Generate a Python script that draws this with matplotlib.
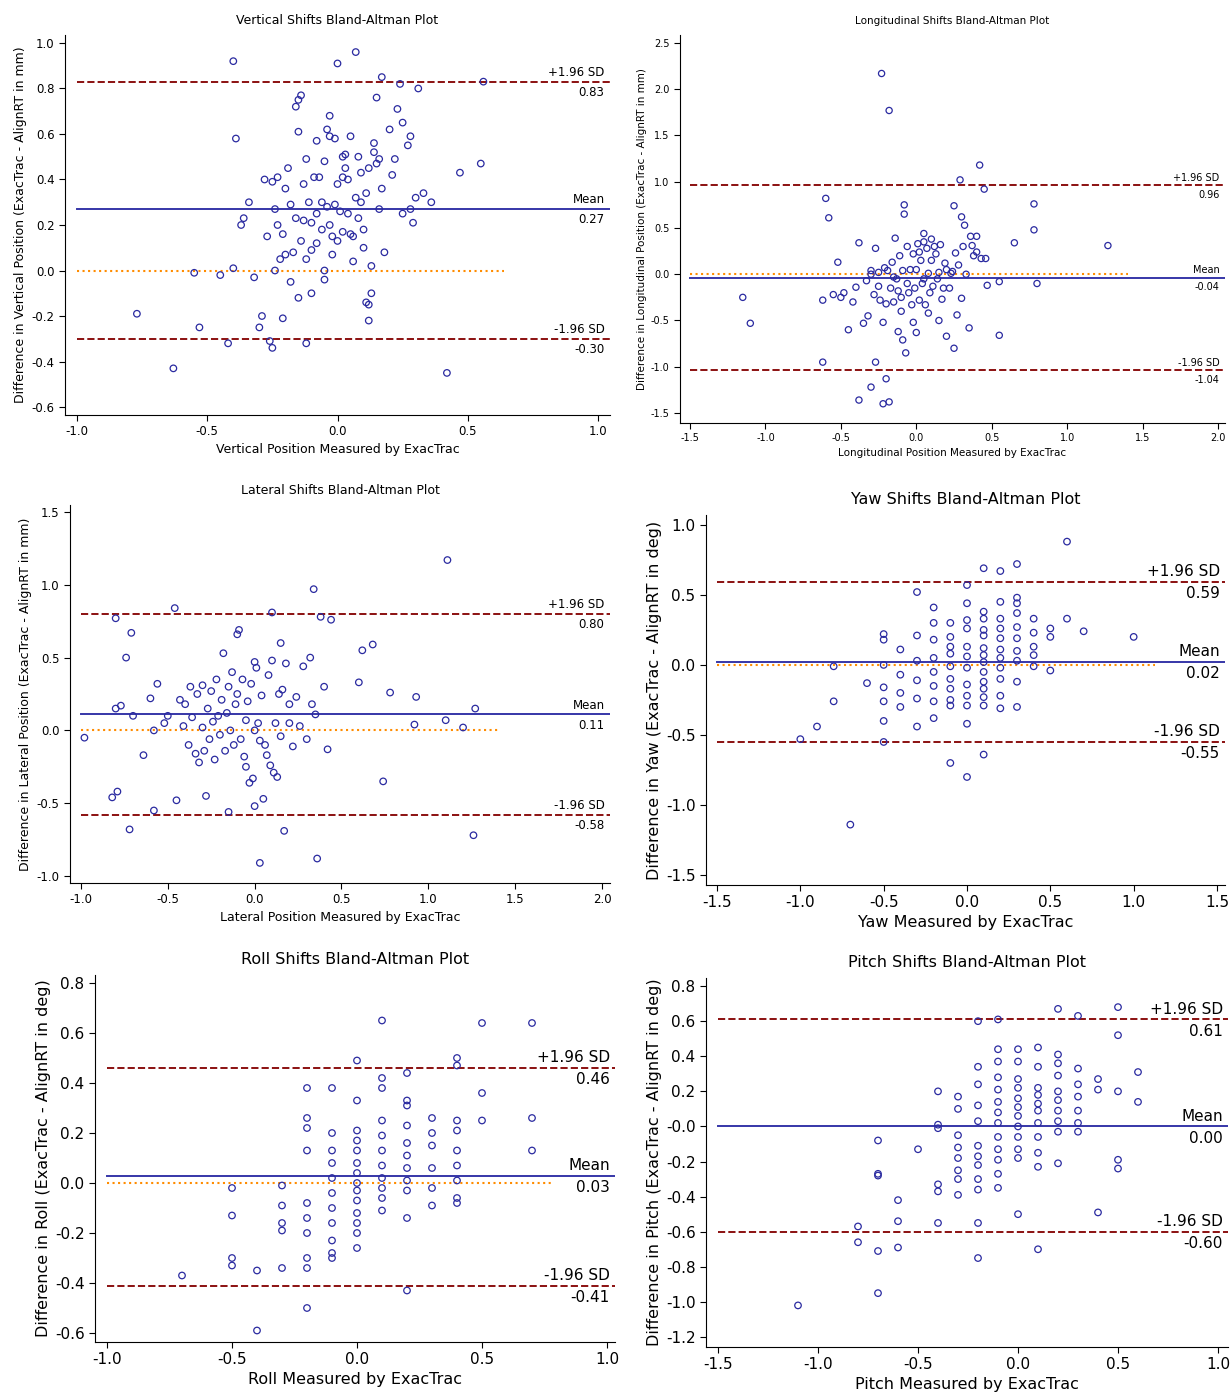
import numpy as np
import matplotlib
matplotlib.use("Agg")
import matplotlib.pyplot as plt

W, H = 1231, 1393

# ---- data ----
vert_pts = [(-0.77,-0.19),(-0.63,-0.43),(-0.55,-0.01),(-0.53,-0.25),(-0.45,-0.02),(-0.42,-0.32),(-0.4,0.92),(-0.4,0.01),(-0.39,0.58),(-0.37,0.20),(-0.36,0.23),(-0.34,0.30),(-0.32,-0.03),(-0.3,-0.25),(-0.29,-0.20),(-0.28,0.40),(-0.27,0.15),(-0.26,-0.31),(-0.25,-0.34),(-0.25,0.39),(-0.24,0.27),(-0.24,0.00),(-0.23,0.41),(-0.23,0.20),(-0.22,0.05),(-0.21,-0.21),(-0.21,0.16),(-0.2,0.36),(-0.2,0.07),(-0.19,0.45),(-0.18,0.29),(-0.18,-0.05),(-0.17,0.08),(-0.16,0.23),(-0.16,0.72),(-0.15,0.75),(-0.15,0.61),(-0.15,-0.12),(-0.14,0.77),(-0.14,0.13),(-0.13,0.38),(-0.13,0.22),(-0.12,-0.32),(-0.12,0.49),(-0.12,0.05),(-0.11,0.30),(-0.1,0.09),(-0.1,0.21),(-0.1,-0.10),(-0.09,0.41),(-0.08,0.57),(-0.08,0.25),(-0.08,0.12),(-0.07,0.41),(-0.06,0.18),(-0.05,0.48),(-0.05,0.00),(-0.05,-0.04),(-0.04,0.62),(-0.04,0.28),(-0.03,0.68),(-0.03,0.59),(-0.03,0.20),(-0.02,0.15),(-0.02,0.07),(-0.01,0.58),(-0.01,0.29),(0.0,0.13),(0.0,0.91),(0.0,0.38),(0.01,0.26),(0.02,0.41),(0.02,0.17),(0.03,0.51),(0.03,0.45),(0.04,0.40),(0.04,0.25),(0.05,0.16),(0.05,0.59),(0.06,0.15),(0.06,0.04),(0.07,0.32),(0.07,0.96),(0.08,0.50),(0.08,0.23),(0.09,0.43),(0.1,0.10),(0.1,0.18),(0.11,-0.14),(0.11,0.34),(0.12,-0.22),(0.12,0.45),(0.12,-0.15),(0.13,0.02),(0.13,-0.10),(0.14,0.52),(0.14,0.56),(0.15,0.47),(0.15,0.76),(0.16,0.49),(0.16,0.27),(0.17,0.85),(0.17,0.36),(0.18,0.08),(0.2,0.62),(0.21,0.42),(0.22,0.49),(0.23,0.71),(0.24,0.82),(0.25,0.25),(0.25,0.65),(0.27,0.55),(0.28,0.59),(0.28,0.27),(0.29,0.21),(0.3,0.32),(0.31,0.80),(0.33,0.34),(0.36,0.30),(0.42,-0.45),(0.47,0.43),(0.55,0.47),(0.56,0.83),(0.02,0.50),(-0.06,0.30),(0.09,0.30)]

long_pts = [(-1.15,-0.25),(-1.1,-0.53),(-0.62,-0.95),(-0.62,-0.28),(-0.6,0.82),(-0.58,0.61),(-0.55,-0.22),(-0.52,0.13),(-0.5,-0.25),(-0.48,-0.20),(-0.45,-0.60),(-0.42,-0.30),(-0.4,-0.14),(-0.38,0.34),(-0.38,-1.36),(-0.35,-0.53),(-0.33,-0.07),(-0.32,-0.45),(-0.3,-1.22),(-0.3,0.04),(-0.28,-0.22),(-0.27,0.28),(-0.27,-0.95),(-0.25,-0.13),(-0.25,0.02),(-0.24,-0.28),(-0.23,2.17),(-0.22,-1.40),(-0.22,-0.52),(-0.21,0.07),(-0.2,-1.13),(-0.2,-0.32),(-0.19,0.04),(-0.18,-1.38),(-0.18,1.77),(-0.17,-0.15),(-0.16,0.13),(-0.15,-0.30),(-0.14,0.39),(-0.13,-0.05),(-0.12,-0.62),(-0.12,-0.18),(-0.11,0.20),(-0.1,-0.25),(-0.1,-0.40),(-0.09,-0.71),(-0.09,0.04),(-0.08,0.65),(-0.08,0.75),(-0.07,-0.85),(-0.06,0.30),(-0.06,-0.10),(-0.05,-0.20),(-0.04,0.05),(-0.03,-0.33),(-0.02,0.22),(-0.02,-0.52),(-0.01,-0.15),(0.0,-0.63),(0.0,0.05),(0.01,0.33),(0.02,0.24),(0.02,-0.28),(0.03,0.15),(0.04,-0.10),(0.05,0.44),(0.05,0.35),(0.06,-0.33),(0.07,0.28),(0.08,0.01),(0.08,-0.42),(0.09,-0.20),(0.1,0.38),(0.1,0.15),(0.11,-0.13),(0.12,0.30),(0.13,0.22),(0.14,-0.05),(0.15,0.02),(0.15,-0.50),(0.16,0.32),(0.17,-0.27),(0.18,-0.15),(0.19,0.12),(0.2,-0.67),(0.2,0.05),(0.22,-0.15),(0.23,0.01),(0.24,0.03),(0.25,0.74),(0.25,-0.80),(0.26,0.23),(0.27,-0.44),(0.28,0.10),(0.29,1.02),(0.3,0.62),(0.3,-0.26),(0.31,0.30),(0.32,0.53),(0.33,0.00),(0.35,-0.58),(0.36,0.41),(0.37,0.31),(0.38,0.20),(0.4,0.24),(0.4,0.41),(0.42,1.18),(0.43,0.17),(0.45,0.92),(0.46,0.17),(0.47,-0.12),(0.55,-0.66),(0.55,-0.08),(0.65,0.34),(0.78,0.76),(0.78,0.48),(0.8,-0.10),(1.27,0.31),(-0.3,0.0),(0.05,-0.05),(-0.15,-0.03)]

lat_pts = [(-0.98,-0.05),(-0.82,-0.46),(-0.8,0.77),(-0.8,0.15),(-0.79,-0.42),(-0.77,0.17),(-0.74,0.50),(-0.72,-0.68),(-0.71,0.67),(-0.7,0.10),(-0.64,-0.17),(-0.6,0.22),(-0.58,-0.55),(-0.56,0.32),(-0.52,0.05),(-0.5,0.10),(-0.46,0.84),(-0.45,-0.48),(-0.43,0.21),(-0.41,0.03),(-0.4,0.18),(-0.38,-0.10),(-0.37,0.30),(-0.36,0.09),(-0.34,-0.16),(-0.33,0.25),(-0.32,-0.22),(-0.3,0.02),(-0.3,0.31),(-0.29,-0.14),(-0.28,-0.45),(-0.27,0.15),(-0.26,-0.06),(-0.25,0.27),(-0.24,0.06),(-0.23,-0.20),(-0.22,0.35),(-0.21,0.10),(-0.2,-0.03),(-0.19,0.21),(-0.18,0.53),(-0.17,-0.14),(-0.16,0.12),(-0.15,-0.56),(-0.15,0.30),(-0.14,0.00),(-0.13,0.40),(-0.12,-0.10),(-0.11,0.18),(-0.1,0.66),(-0.1,0.25),(-0.09,0.69),(-0.08,-0.06),(-0.07,0.35),(-0.06,-0.18),(-0.05,0.07),(-0.05,-0.25),(-0.04,0.20),(-0.03,-0.36),(-0.02,0.32),(-0.01,-0.33),(0.0,0.47),(0.0,0.0),(0.0,-0.52),(0.01,0.43),(0.02,0.05),(0.03,-0.07),(0.03,-0.91),(0.04,0.24),(0.05,-0.47),(0.06,-0.10),(0.07,-0.17),(0.08,0.38),(0.09,-0.24),(0.1,0.81),(0.1,0.48),(0.11,-0.29),(0.12,0.05),(0.13,-0.32),(0.14,0.25),(0.15,0.60),(0.15,-0.04),(0.16,0.28),(0.17,-0.69),(0.18,0.46),(0.2,0.18),(0.22,-0.11),(0.24,0.23),(0.26,0.03),(0.28,0.44),(0.3,-0.06),(0.32,0.50),(0.33,0.18),(0.34,0.97),(0.35,0.11),(0.36,-0.88),(0.38,0.78),(0.4,0.30),(0.42,-0.13),(0.44,0.76),(0.6,0.33),(0.62,0.55),(0.68,0.59),(0.74,-0.35),(0.78,0.26),(0.92,0.04),(0.93,0.23),(1.1,0.07),(1.11,1.17),(1.2,0.02),(1.26,-0.72),(1.27,0.15),(-0.58,0.0),(0.2,0.05)]

yaw_pts = [(-1.0,-0.53),(-0.9,-0.44),(-0.8,-0.26),(-0.8,-0.01),(-0.7,-1.14),(-0.6,-0.13),(-0.5,0.22),(-0.5,0.18),(-0.5,0.0),(-0.5,-0.16),(-0.5,-0.26),(-0.5,-0.40),(-0.5,-0.55),(-0.4,0.11),(-0.4,-0.07),(-0.4,-0.20),(-0.4,-0.30),(-0.3,0.21),(-0.3,0.03),(-0.3,-0.11),(-0.3,-0.24),(-0.3,-0.44),(-0.3,0.52),(-0.2,0.30),(-0.2,0.18),(-0.2,0.05),(-0.2,-0.05),(-0.2,-0.15),(-0.2,-0.26),(-0.2,0.41),(-0.1,0.30),(-0.1,0.20),(-0.1,0.13),(-0.1,0.08),(-0.1,-0.01),(-0.1,-0.10),(-0.1,-0.17),(-0.1,-0.25),(-0.1,-0.29),(-0.1,-0.70),(0.0,0.57),(0.0,0.32),(0.0,0.26),(0.0,0.13),(0.0,0.06),(0.0,-0.02),(0.0,-0.14),(0.0,-0.22),(0.0,-0.29),(0.0,-0.42),(0.0,-0.80),(0.1,0.69),(0.1,0.38),(0.1,0.33),(0.1,0.25),(0.1,0.21),(0.1,0.12),(0.1,0.07),(0.1,0.02),(0.1,-0.05),(0.1,-0.12),(0.1,-0.17),(0.1,-0.23),(0.1,-0.29),(0.1,-0.64),(0.2,0.45),(0.2,0.33),(0.2,0.26),(0.2,0.19),(0.2,0.11),(0.2,0.05),(0.2,-0.02),(0.2,-0.10),(0.2,-0.22),(0.2,-0.31),(0.2,0.67),(0.3,0.48),(0.3,0.44),(0.3,0.37),(0.3,0.27),(0.3,0.19),(0.3,0.10),(0.3,0.03),(0.3,-0.12),(0.3,-0.30),(0.3,0.72),(0.4,0.33),(0.4,0.23),(0.4,0.13),(0.4,0.07),(0.4,-0.01),(0.5,0.26),(0.5,0.20),(0.5,-0.04),(0.6,0.88),(0.6,0.33),(0.7,0.24),(1.0,0.20),(-0.2,-0.38),(0.0,0.44)]

roll_pts = [(-0.7,-0.37),(-0.5,-0.02),(-0.5,-0.13),(-0.5,-0.30),(-0.5,-0.33),(-0.4,-0.35),(-0.4,-0.59),(-0.3,-0.01),(-0.3,-0.09),(-0.3,-0.16),(-0.3,-0.19),(-0.3,-0.34),(-0.2,0.38),(-0.2,0.26),(-0.2,0.22),(-0.2,0.13),(-0.2,-0.08),(-0.2,-0.14),(-0.2,-0.20),(-0.2,-0.30),(-0.2,-0.34),(-0.2,-0.50),(-0.1,0.38),(-0.1,0.20),(-0.1,0.13),(-0.1,0.02),(-0.1,-0.04),(-0.1,-0.10),(-0.1,-0.16),(-0.1,-0.23),(-0.1,-0.28),(-0.1,-0.30),(0.0,0.49),(0.0,0.33),(0.0,0.21),(0.0,0.17),(0.0,0.13),(0.0,0.08),(0.0,0.04),(0.0,0.00),(0.0,-0.03),(0.0,-0.07),(0.0,-0.12),(0.0,-0.16),(0.0,-0.20),(0.0,-0.26),(0.1,0.65),(0.1,0.42),(0.1,0.38),(0.1,0.25),(0.1,0.19),(0.1,0.13),(0.1,0.07),(0.1,0.02),(0.1,-0.02),(0.1,-0.06),(0.1,-0.11),(0.2,0.44),(0.2,0.33),(0.2,0.31),(0.2,0.23),(0.2,0.16),(0.2,0.11),(0.2,0.06),(0.2,0.01),(0.2,-0.03),(0.2,-0.14),(0.2,-0.43),(0.3,0.20),(0.3,0.15),(0.3,0.06),(0.3,-0.02),(0.3,-0.09),(0.4,0.50),(0.4,0.47),(0.4,0.25),(0.4,0.21),(0.4,0.13),(0.4,0.07),(0.4,0.01),(0.4,-0.06),(0.4,-0.08),(0.5,0.64),(0.5,0.36),(0.5,0.25),(0.7,0.64),(0.7,0.26),(0.7,0.13),(0.3,0.26),(-0.1,0.08)]

pitch_pts = [(-1.1,-1.02),(-0.8,-0.57),(-0.8,-0.66),(-0.7,-0.08),(-0.7,-0.27),(-0.7,-0.28),(-0.7,-0.71),(-0.7,-0.95),(-0.6,-0.42),(-0.6,-0.54),(-0.6,-0.69),(-0.5,-0.13),(-0.4,0.20),(-0.4,0.01),(-0.4,-0.01),(-0.4,-0.33),(-0.4,-0.37),(-0.4,-0.55),(-0.3,-0.12),(-0.3,-0.18),(-0.3,-0.25),(-0.3,-0.30),(-0.3,-0.39),(-0.3,0.10),(-0.3,0.17),(-0.2,0.34),(-0.2,0.24),(-0.2,0.12),(-0.2,0.03),(-0.2,-0.11),(-0.2,-0.17),(-0.2,-0.22),(-0.2,-0.30),(-0.2,-0.36),(-0.2,-0.55),(-0.2,-0.75),(-0.2,0.60),(-0.1,0.61),(-0.1,0.44),(-0.1,0.37),(-0.1,0.28),(-0.1,0.21),(-0.1,0.14),(-0.1,0.08),(-0.1,0.02),(-0.1,-0.06),(-0.1,-0.13),(-0.1,-0.19),(-0.1,-0.27),(-0.1,-0.35),(0.0,0.44),(0.0,0.37),(0.0,0.27),(0.0,0.22),(0.0,0.16),(0.0,0.11),(0.0,0.06),(0.0,0.00),(0.0,-0.06),(0.0,-0.13),(0.0,-0.18),(0.0,-0.50),(0.1,0.45),(0.1,0.34),(0.1,0.22),(0.1,0.13),(0.1,0.09),(0.1,0.02),(0.1,-0.06),(0.1,-0.15),(0.1,-0.23),(0.1,-0.70),(0.2,0.67),(0.2,0.41),(0.2,0.36),(0.2,0.29),(0.2,0.20),(0.2,0.15),(0.2,0.09),(0.2,0.03),(0.2,-0.03),(0.2,-0.21),(0.3,0.63),(0.3,0.33),(0.3,0.24),(0.3,0.17),(0.3,0.09),(0.3,0.02),(0.3,-0.03),(0.4,0.27),(0.4,0.21),(0.4,-0.49),(0.5,0.68),(0.5,0.52),(0.5,0.20),(0.5,-0.19),(0.5,-0.24),(0.6,0.31),(0.6,0.14),(0.1,0.18),(-0.3,-0.05)]

# (upper limit, mean, lower limit)
vert_stats = (0.83, 0.27, -0.30)
long_stats = (0.96, -0.04, -1.04)
lat_stats = (0.80, 0.11, -0.58)
yaw_stats = (0.59, 0.02, -0.55)
roll_stats = (0.46, 0.03, -0.41)
pitch_stats = (0.61, 0.00, -0.60)

fig = plt.figure(figsize=(W / 100, H / 100), dpi=100)


def panel(box, xlim, ylim, xticks, yticks, pts, stats, title, xlabel, ylabel,
          fs, zero_end, ms):
    l, t, r, b = box
    ax = fig.add_axes([l / W, 1 - b / H, (r - l) / W, (b - t) / H])
    ax.set_xlim(*xlim)
    ax.set_ylim(*ylim)
    ax.spines[["top", "right"]].set_visible(False)
    ax.set_xticks(xticks)
    ax.set_yticks(yticks)
    ax.xaxis.set_major_formatter(matplotlib.ticker.FormatStrFormatter("%.1f"))
    ax.yaxis.set_major_formatter(matplotlib.ticker.FormatStrFormatter("%.1f"))
    ax.tick_params(labelsize=fs, direction="out", length=4)
    x0 = xticks[0]
    up, mean, lo = stats
    if zero_end is not None:
        ax.plot([x0, zero_end], [0, 0], color="#ff8c00", ls=":", lw=1.5)
    ax.plot([x0, xlim[1]], [mean, mean], color="#3636a8", lw=1.4)
    for v in (up, lo):
        ax.plot([x0, xlim[1]], [v, v], color="#8b1010", ls="--", lw=1.4)
    xs = [p[0] for p in pts]
    ys = [p[1] for p in pts]
    ax.scatter(xs, ys, s=ms, facecolors="none", edgecolors="#2a2aa0", lw=0.9, zorder=3)
    xt = xlim[1] - 0.01 * (xlim[1] - xlim[0])
    for v, lab in ((up, "+1.96 SD"), (mean, "Mean"), (lo, "-1.96 SD")):
        ax.annotate(lab, (xt, v), xytext=(0, 2), textcoords="offset points",
                    ha="right", va="bottom", fontsize=fs)
        ax.annotate(f"{v:.2f}", (xt, v), xytext=(0, -3), textcoords="offset points",
                    ha="right", va="top", fontsize=fs)
    ax.set_title(title, fontsize=fs + 0.5, pad=8)
    ax.set_xlabel(xlabel, fontsize=fs + 0.5, labelpad=3)
    ax.set_ylabel(ylabel, fontsize=fs + 0.5, labelpad=3)
    return ax


panel((65, 35, 610, 415), (-1.046, 1.046), (-0.635, 1.035),
      np.arange(-1.0, 1.01, 0.5), np.arange(-0.6, 1.01, 0.2),
      vert_pts, vert_stats, "Vertical Shifts Bland-Altman Plot",
      "Vertical Position Measured by ExacTrac",
      "Difference in Vertical Position (ExacTrac - AlignRT in mm)", 8.5, 0.64, 22)

panel((680, 35, 1225, 423), (-1.566, 2.046), (-1.608, 2.586),
      np.arange(-1.5, 2.01, 0.5), np.arange(-1.5, 2.51, 0.5),
      long_pts, long_stats, "Longitudinal Shifts Bland-Altman Plot",
      "Longitudinal Position Measured by ExacTrac",
      "Difference in Longitudinal Position (ExacTrac - AlignRT in mm)", 7, 1.40, 20)

panel((70, 505, 610, 883), (-1.063, 2.046), (-1.048, 1.548),
      np.arange(-1.0, 2.01, 0.5), np.arange(-1.0, 1.51, 0.5),
      lat_pts, lat_stats, "Lateral Shifts Bland-Altman Plot",
      "Lateral Position Measured by ExacTrac",
      "Difference in Lateral Position (ExacTrac - AlignRT in mm)", 8.5, 1.40, 22)

panel((706, 515, 1225, 885), (-1.566, 1.548), (-1.571, 1.07),
      np.arange(-1.5, 1.51, 0.5), np.arange(-1.5, 1.01, 0.5),
      yaw_pts, yaw_stats, "Yaw Shifts Bland-Altman Plot",
      "Yaw Measured by ExacTrac",
      "Difference in Yaw (ExacTrac - AlignRT in deg)", 11, 1.13, 22)

panel((95, 975, 615, 1342), (-1.048, 1.032), (-0.636, 0.832),
      np.arange(-1.0, 1.01, 0.5), np.arange(-0.6, 0.81, 0.2),
      roll_pts, roll_stats, "Roll Shifts Bland-Altman Plot",
      "Roll Measured by ExacTrac",
      "Difference in Roll (ExacTrac - AlignRT in deg)", 11, 0.78, 22)

panel((706, 978, 1228, 1347), (-1.56, 1.05), (-1.257, 0.846),
      np.arange(-1.5, 1.01, 0.5), np.arange(-1.2, 0.81, 0.2),
      pitch_pts, pitch_stats, "Pitch Shifts Bland-Altman Plot",
      "Pitch Measured by ExacTrac",
      "Difference in Pitch (ExacTrac - AlignRT in deg)", 11, None, 22)

fig.savefig("out.png", dpi=100)
